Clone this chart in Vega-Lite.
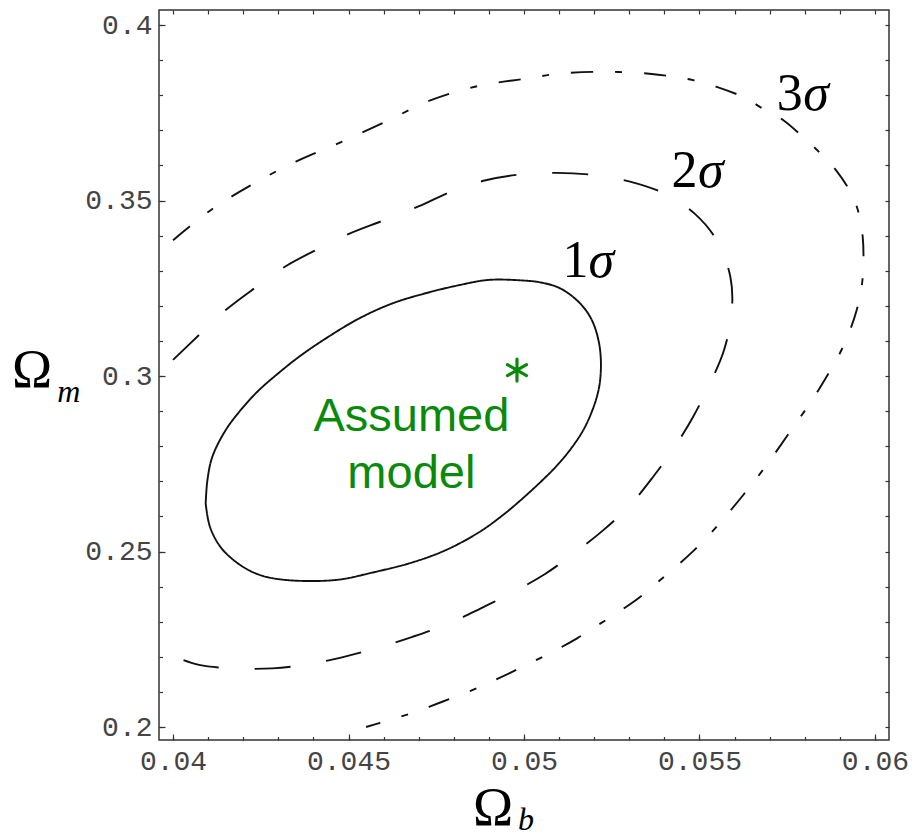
{
  "$schema": "https://vega.github.io/schema/vega-lite/v6.json",
  "width": 730,
  "height": 730,
  "autosize": {"type": "none"},
  "padding": {"left": 159, "top": 10, "right": 25, "bottom": 100},
  "background": "white",
  "config": {
    "view": {"stroke": "#333333", "strokeWidth": 1.5},
    "axis": {"domain": false, "grid": false, "title": null, "tickColor": "#333333", "tickWidth": 1.2, "labelFont": "Liberation Mono", "labelFontSize": 28, "labelColor": "#444444", "labelOverlap": false, "labelFlush": false}
  },
  "datasets": {
    "contours": [
      {"sigma": "1", "i": 0, "x": 0.04093, "y": 0.2637},
      {"sigma": "1", "i": 1, "x": 0.04098, "y": 0.2704},
      {"sigma": "1", "i": 2, "x": 0.04112, "y": 0.2770},
      {"sigma": "1", "i": 3, "x": 0.04150, "y": 0.2846},
      {"sigma": "1", "i": 4, "x": 0.04197, "y": 0.2908},
      {"sigma": "1", "i": 5, "x": 0.04245, "y": 0.2960},
      {"sigma": "1", "i": 6, "x": 0.04311, "y": 0.3017},
      {"sigma": "1", "i": 7, "x": 0.04359, "y": 0.3055},
      {"sigma": "1", "i": 8, "x": 0.04435, "y": 0.3107},
      {"sigma": "1", "i": 9, "x": 0.04530, "y": 0.3164},
      {"sigma": "1", "i": 10, "x": 0.04625, "y": 0.3207},
      {"sigma": "1", "i": 11, "x": 0.04720, "y": 0.3236},
      {"sigma": "1", "i": 12, "x": 0.04815, "y": 0.3259},
      {"sigma": "1", "i": 13, "x": 0.04900, "y": 0.3274},
      {"sigma": "1", "i": 14, "x": 0.05000, "y": 0.3272},
      {"sigma": "1", "i": 15, "x": 0.05046, "y": 0.3267},
      {"sigma": "1", "i": 16, "x": 0.05103, "y": 0.3250},
      {"sigma": "1", "i": 17, "x": 0.05160, "y": 0.3207},
      {"sigma": "1", "i": 18, "x": 0.05193, "y": 0.3160},
      {"sigma": "1", "i": 19, "x": 0.05212, "y": 0.3103},
      {"sigma": "1", "i": 20, "x": 0.05219, "y": 0.3046},
      {"sigma": "1", "i": 21, "x": 0.05217, "y": 0.2989},
      {"sigma": "1", "i": 22, "x": 0.05210, "y": 0.2950},
      {"sigma": "1", "i": 23, "x": 0.05195, "y": 0.2903},
      {"sigma": "1", "i": 24, "x": 0.05169, "y": 0.2846},
      {"sigma": "1", "i": 25, "x": 0.05133, "y": 0.2792},
      {"sigma": "1", "i": 26, "x": 0.05093, "y": 0.2744},
      {"sigma": "1", "i": 27, "x": 0.05046, "y": 0.2697},
      {"sigma": "1", "i": 28, "x": 0.04989, "y": 0.2645},
      {"sigma": "1", "i": 29, "x": 0.04940, "y": 0.2604},
      {"sigma": "1", "i": 30, "x": 0.04872, "y": 0.2555},
      {"sigma": "1", "i": 31, "x": 0.04777, "y": 0.2504},
      {"sigma": "1", "i": 32, "x": 0.04682, "y": 0.2469},
      {"sigma": "1", "i": 33, "x": 0.04568, "y": 0.2440},
      {"sigma": "1", "i": 34, "x": 0.04464, "y": 0.2419},
      {"sigma": "1", "i": 35, "x": 0.04321, "y": 0.2419},
      {"sigma": "1", "i": 36, "x": 0.04245, "y": 0.2434},
      {"sigma": "1", "i": 37, "x": 0.04188, "y": 0.2464},
      {"sigma": "1", "i": 38, "x": 0.04136, "y": 0.2512},
      {"sigma": "1", "i": 39, "x": 0.04105, "y": 0.2571},
      {"sigma": "1", "i": 40, "x": 0.04093, "y": 0.2637},
      {"sigma": "2", "i": 0, "x": 0.04000, "y": 0.3046},
      {"sigma": "2", "i": 1, "x": 0.04074, "y": 0.3117},
      {"sigma": "2", "i": 2, "x": 0.04150, "y": 0.3188},
      {"sigma": "2", "i": 3, "x": 0.04236, "y": 0.3253},
      {"sigma": "2", "i": 4, "x": 0.04321, "y": 0.3313},
      {"sigma": "2", "i": 5, "x": 0.04411, "y": 0.3361},
      {"sigma": "2", "i": 6, "x": 0.04501, "y": 0.3405},
      {"sigma": "2", "i": 7, "x": 0.04601, "y": 0.3444},
      {"sigma": "2", "i": 8, "x": 0.04701, "y": 0.3484},
      {"sigma": "2", "i": 9, "x": 0.04791, "y": 0.3525},
      {"sigma": "2", "i": 10, "x": 0.04891, "y": 0.3558},
      {"sigma": "2", "i": 11, "x": 0.04995, "y": 0.3575},
      {"sigma": "2", "i": 12, "x": 0.05093, "y": 0.3579},
      {"sigma": "2", "i": 13, "x": 0.05197, "y": 0.3573},
      {"sigma": "2", "i": 14, "x": 0.05302, "y": 0.3554},
      {"sigma": "2", "i": 15, "x": 0.05402, "y": 0.3519},
      {"sigma": "2", "i": 16, "x": 0.05487, "y": 0.3462},
      {"sigma": "2", "i": 17, "x": 0.05549, "y": 0.3387},
      {"sigma": "2", "i": 18, "x": 0.05588, "y": 0.3283},
      {"sigma": "2", "i": 19, "x": 0.05592, "y": 0.3183},
      {"sigma": "2", "i": 20, "x": 0.05570, "y": 0.3074},
      {"sigma": "2", "i": 21, "x": 0.05530, "y": 0.2979},
      {"sigma": "2", "i": 22, "x": 0.05482, "y": 0.2884},
      {"sigma": "2", "i": 23, "x": 0.05430, "y": 0.2799},
      {"sigma": "2", "i": 24, "x": 0.05368, "y": 0.2713},
      {"sigma": "2", "i": 25, "x": 0.05302, "y": 0.2632},
      {"sigma": "2", "i": 26, "x": 0.05226, "y": 0.2561},
      {"sigma": "2", "i": 27, "x": 0.05145, "y": 0.2497},
      {"sigma": "2", "i": 28, "x": 0.05060, "y": 0.2436},
      {"sigma": "2", "i": 29, "x": 0.04972, "y": 0.2386},
      {"sigma": "2", "i": 30, "x": 0.04877, "y": 0.2338},
      {"sigma": "2", "i": 31, "x": 0.04781, "y": 0.2293},
      {"sigma": "2", "i": 32, "x": 0.04682, "y": 0.2257},
      {"sigma": "2", "i": 33, "x": 0.04587, "y": 0.2227},
      {"sigma": "2", "i": 34, "x": 0.04487, "y": 0.2200},
      {"sigma": "2", "i": 35, "x": 0.04387, "y": 0.2179},
      {"sigma": "2", "i": 36, "x": 0.04283, "y": 0.2167},
      {"sigma": "2", "i": 37, "x": 0.04179, "y": 0.2167},
      {"sigma": "2", "i": 38, "x": 0.04074, "y": 0.2177},
      {"sigma": "2", "i": 39, "x": 0.04000, "y": 0.2202},
      {"sigma": "3", "i": 0, "x": 0.04000, "y": 0.3387},
      {"sigma": "3", "i": 1, "x": 0.04112, "y": 0.3476},
      {"sigma": "3", "i": 2, "x": 0.04240, "y": 0.3554},
      {"sigma": "3", "i": 3, "x": 0.04350, "y": 0.3611},
      {"sigma": "3", "i": 4, "x": 0.04482, "y": 0.3668},
      {"sigma": "3", "i": 5, "x": 0.04615, "y": 0.3729},
      {"sigma": "3", "i": 6, "x": 0.04729, "y": 0.3784},
      {"sigma": "3", "i": 7, "x": 0.04867, "y": 0.3826},
      {"sigma": "3", "i": 8, "x": 0.05009, "y": 0.3848},
      {"sigma": "3", "i": 9, "x": 0.05103, "y": 0.3862},
      {"sigma": "3", "i": 10, "x": 0.05226, "y": 0.3867},
      {"sigma": "3", "i": 11, "x": 0.05350, "y": 0.3862},
      {"sigma": "3", "i": 12, "x": 0.05425, "y": 0.3853},
      {"sigma": "3", "i": 13, "x": 0.05482, "y": 0.3843},
      {"sigma": "3", "i": 14, "x": 0.05549, "y": 0.3824},
      {"sigma": "3", "i": 15, "x": 0.05634, "y": 0.3791},
      {"sigma": "3", "i": 16, "x": 0.05672, "y": 0.3767},
      {"sigma": "3", "i": 17, "x": 0.05739, "y": 0.3729},
      {"sigma": "3", "i": 18, "x": 0.05796, "y": 0.3680},
      {"sigma": "3", "i": 19, "x": 0.05843, "y": 0.3636},
      {"sigma": "3", "i": 20, "x": 0.05891, "y": 0.3584},
      {"sigma": "3", "i": 21, "x": 0.05932, "y": 0.3521},
      {"sigma": "3", "i": 22, "x": 0.05952, "y": 0.3470},
      {"sigma": "3", "i": 23, "x": 0.05965, "y": 0.3397},
      {"sigma": "3", "i": 24, "x": 0.05967, "y": 0.3321},
      {"sigma": "3", "i": 25, "x": 0.05962, "y": 0.3254},
      {"sigma": "3", "i": 26, "x": 0.05948, "y": 0.3188},
      {"sigma": "3", "i": 27, "x": 0.05929, "y": 0.3131},
      {"sigma": "3", "i": 28, "x": 0.05900, "y": 0.3065},
      {"sigma": "3", "i": 29, "x": 0.05862, "y": 0.2998},
      {"sigma": "3", "i": 30, "x": 0.05824, "y": 0.2936},
      {"sigma": "3", "i": 31, "x": 0.05786, "y": 0.2881},
      {"sigma": "3", "i": 32, "x": 0.05748, "y": 0.2827},
      {"sigma": "3", "i": 33, "x": 0.05706, "y": 0.2767},
      {"sigma": "3", "i": 34, "x": 0.05666, "y": 0.2713},
      {"sigma": "3", "i": 35, "x": 0.05623, "y": 0.2659},
      {"sigma": "3", "i": 36, "x": 0.05575, "y": 0.2601},
      {"sigma": "3", "i": 37, "x": 0.05532, "y": 0.2552},
      {"sigma": "3", "i": 38, "x": 0.05482, "y": 0.2501},
      {"sigma": "3", "i": 39, "x": 0.05430, "y": 0.2454},
      {"sigma": "3", "i": 40, "x": 0.05380, "y": 0.2412},
      {"sigma": "3", "i": 41, "x": 0.05326, "y": 0.2367},
      {"sigma": "3", "i": 42, "x": 0.05268, "y": 0.2327},
      {"sigma": "3", "i": 43, "x": 0.05210, "y": 0.2290},
      {"sigma": "3", "i": 44, "x": 0.05150, "y": 0.2252},
      {"sigma": "3", "i": 45, "x": 0.05083, "y": 0.2215},
      {"sigma": "3", "i": 46, "x": 0.05025, "y": 0.2186},
      {"sigma": "3", "i": 47, "x": 0.04962, "y": 0.2155},
      {"sigma": "3", "i": 48, "x": 0.04900, "y": 0.2126},
      {"sigma": "3", "i": 49, "x": 0.04840, "y": 0.2100},
      {"sigma": "3", "i": 50, "x": 0.04767, "y": 0.2072},
      {"sigma": "3", "i": 51, "x": 0.04710, "y": 0.2050},
      {"sigma": "3", "i": 52, "x": 0.04650, "y": 0.2030},
      {"sigma": "3", "i": 53, "x": 0.04590, "y": 0.2012},
      {"sigma": "3", "i": 54, "x": 0.04550, "y": 0.2000}
    ],
    "model": [{"x": 0.0498, "y": 0.3017, "label": "Assumed\nmodel", "lx": 0.04679, "ly": 0.28433}],
    "sigmas": [
      {"n": "1", "x": 0.05110, "sx": 0.05184, "y": 0.3282},
      {"n": "2", "x": 0.05420, "sx": 0.05496, "y": 0.3538},
      {"n": "3", "x": 0.05720, "sx": 0.05796, "y": 0.3758}
    ],
    "titles": [
      {"t": "Ω", "x": 0.03541, "y": 0.29687, "s": "m", "sx": 0.03670, "sy": 0.29259},
      {"t": "Ω", "x": 0.04855, "y": 0.17208, "s": "b", "sx": 0.04983, "sy": 0.17066}
    ]
  },
  "resolve": {"axis": {"x": "independent", "y": "independent"}},
  "layer": [
    {
      "data": {"name": "contours"},
      "mark": {"type": "line", "interpolate": "catmull-rom", "stroke": "#111111", "strokeWidth": 1.9},
      "encoding": {
        "x": {"field": "x", "type": "quantitative", "scale": {"domain": [0.0396, 0.0604], "nice": false, "zero": false},
          "axis": {"orient": "bottom", "values": [0.04, 0.045, 0.05, 0.055, 0.06], "format": ".3~f", "tickSize": -6, "labelPadding": 13}},
        "y": {"field": "y", "type": "quantitative", "scale": {"domain": [0.1963, 0.4043], "nice": false, "zero": false},
          "axis": {"orient": "left", "values": [0.2, 0.25, 0.3, 0.35, 0.4], "format": ".2~f", "tickSize": -6, "labelPadding": 13}},
        "order": {"field": "i", "type": "quantitative"},
        "detail": {"field": "sigma", "type": "nominal"},
        "strokeDash": {"field": "sigma", "type": "nominal", "legend": null,
          "scale": {"domain": ["1", "2", "3"], "range": [[1, 0], [36, 36], [22, 22, 7, 22]]}}
      }
    },
    {
      "data": {"name": "model"},
      "mark": {"type": "point", "shape": "M0,-1L0,1M-0.87,-0.5L0.87,0.5M-0.87,0.5L0.87,-0.5", "size": 480, "filled": false, "stroke": "#0a8a0a", "strokeWidth": 3.2, "strokeCap": "round", "opacity": 1},
      "encoding": {
        "x": {"field": "x", "type": "quantitative",
          "axis": {"orient": "bottom", "values": [0.04, 0.041, 0.042, 0.043, 0.044, 0.045, 0.046, 0.047, 0.048, 0.049, 0.05, 0.051, 0.052, 0.053, 0.054, 0.055, 0.056, 0.057, 0.058, 0.059, 0.06], "labels": false, "tickSize": -3.5}},
        "y": {"field": "y", "type": "quantitative",
          "axis": {"orient": "left", "values": [0.2, 0.21, 0.22, 0.23, 0.24, 0.25, 0.26, 0.27, 0.28, 0.29, 0.3, 0.31, 0.32, 0.33, 0.34, 0.35, 0.36, 0.37, 0.38, 0.39, 0.4], "labels": false, "tickSize": -3.5}}
      }
    },
    {
      "data": {"name": "model"},
      "mark": {"type": "text", "font": "Liberation Sans", "fontSize": 47, "color": "#0a8a0a", "align": "center", "baseline": "alphabetic", "lineBreak": "\n", "lineHeight": 57},
      "encoding": {
        "x": {"field": "lx", "type": "quantitative",
          "axis": {"orient": "top", "values": [0.04, 0.041, 0.042, 0.043, 0.044, 0.045, 0.046, 0.047, 0.048, 0.049, 0.05, 0.051, 0.052, 0.053, 0.054, 0.055, 0.056, 0.057, 0.058, 0.059, 0.06], "labels": false, "tickSize": -4}},
        "y": {"field": "ly", "type": "quantitative",
          "axis": {"orient": "right", "values": [0.2, 0.21, 0.22, 0.23, 0.24, 0.25, 0.26, 0.27, 0.28, 0.29, 0.3, 0.31, 0.32, 0.33, 0.34, 0.35, 0.36, 0.37, 0.38, 0.39, 0.4], "labels": false, "tickSize": -4}},
        "text": {"field": "label"}
      }
    },
    {
      "data": {"name": "sigmas"},
      "mark": {"type": "text", "font": "Liberation Serif", "fontSize": 52, "color": "#000000", "align": "left", "baseline": "alphabetic"},
      "encoding": {
        "x": {"field": "x", "type": "quantitative", "axis": null},
        "y": {"field": "y", "type": "quantitative", "axis": null},
        "text": {"field": "n"}
      }
    },
    {
      "data": {"name": "sigmas"},
      "mark": {"type": "text", "font": "Liberation Serif", "fontSize": 52, "fontStyle": "italic", "color": "#000000", "align": "left", "baseline": "alphabetic", "text": "σ"},
      "encoding": {
        "x": {"field": "sx", "type": "quantitative", "axis": null},
        "y": {"field": "y", "type": "quantitative", "axis": null}
      }
    },
    {
      "data": {"name": "titles"},
      "mark": {"type": "text", "font": "Liberation Serif", "fontSize": 54, "color": "#000000", "align": "left", "baseline": "alphabetic"},
      "encoding": {
        "x": {"field": "x", "type": "quantitative", "axis": null},
        "y": {"field": "y", "type": "quantitative", "axis": null},
        "text": {"field": "t"}
      }
    },
    {
      "data": {"name": "titles"},
      "mark": {"type": "text", "font": "Liberation Serif", "fontSize": 32, "fontStyle": "italic", "color": "#000000", "align": "left", "baseline": "alphabetic"},
      "encoding": {
        "x": {"field": "sx", "type": "quantitative", "axis": null},
        "y": {"field": "sy", "type": "quantitative", "axis": null},
        "text": {"field": "s"}
      }
    }
  ]
}
